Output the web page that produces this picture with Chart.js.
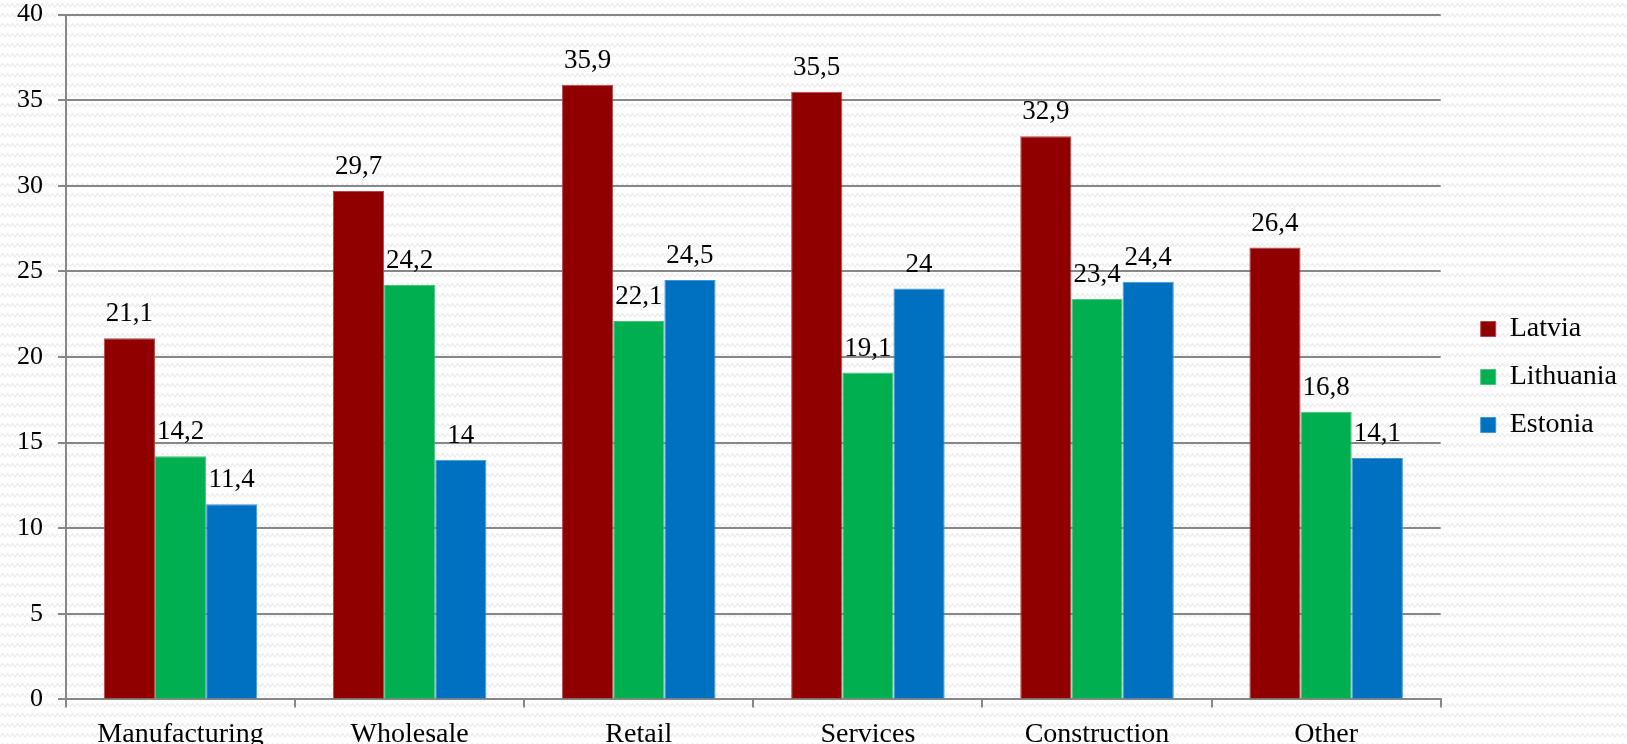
<!DOCTYPE html>
<html>
<head>
<meta charset="utf-8">
<script src="https://cdn.jsdelivr.net/npm/chart.js@4.4.1/dist/chart.umd.min.js"></script>
<style>
  html, body { margin: 0; padding: 0; overflow: hidden; width: 1627px; height: 744px; }
  body {
    position: relative;
    background-color: #ffffff;
    background-image: url("data:image/svg+xml;utf8,<svg xmlns='http://www.w3.org/2000/svg' width='10' height='10'><polyline points='0,7 2.5,3.5 5,7 7.5,3.5 10,7' fill='none' stroke='%23ebebeb' stroke-width='1.2'/></svg>");
  }
  #wrap { position: absolute; left: 0; top: -16px; width: 1627px; height: 783px; }
</style>
</head>
<body>
<div id="wrap"><canvas id="c"></canvas></div>
<script>
const categories = ["Manufacturing", "Wholesale", "Retail", "Services", "Construction", "Other"];
const latvia    = [21.1, 29.7, 35.9, 35.5, 32.9, 26.4];
const lithuania = [14.2, 24.2, 22.1, 19.1, 23.4, 16.8];
const estonia   = [11.4, 14.0, 24.5, 24.0, 24.4, 14.1];
const seriesNames = ["Latvia", "Lithuania", "Estonia"];
const yTicks = [0, 5, 10, 15, 20, 25, 30, 35, 40];

const FONT = "'Liberation Serif', 'Times New Roman', serif";
const GRID = '#878787';

const fmt = v => String(v).replace('.', ',');

const dataLabels = {
  id: 'dataLabels',
  afterDatasetsDraw(chart) {
    const ctx = chart.ctx;
    ctx.save();
    ctx.font = "27px " + FONT;
    ctx.fillStyle = '#000';
    ctx.textAlign = 'center';
    ctx.textBaseline = 'middle';
    chart.data.datasets.forEach((ds, di) => {
      const meta = chart.getDatasetMeta(di);
      meta.data.forEach((el, i) => {
        ctx.fillText(fmt(ds.data[i]), el.x, el.y - 24);
      });
    });
    ctx.restore();
  }
};

new Chart(document.getElementById('c'), {
  type: 'bar',
  data: {
    labels: categories,
    datasets: [
      { label: seriesNames[0], data: latvia,    backgroundColor: '#900000', borderColor: '#b04848', borderWidth: 1 },
      { label: seriesNames[1], data: lithuania, backgroundColor: '#00b050', borderColor: '#40c47c', borderWidth: 1 },
      { label: seriesNames[2], data: estonia,   backgroundColor: '#0070c0', borderColor: '#4096d4', borderWidth: 1 }
    ]
  },
  options: {
    responsive: true,
    maintainAspectRatio: false,
    animation: false,
    layout: { padding: { left: 2, top: 9, right: 0, bottom: 6 } },
    datasets: { bar: { categoryPercentage: 0.67, barPercentage: 1.0 } },
    scales: {
      x: {
        grid: { display: true, drawOnChartArea: false, drawTicks: true, tickLength: 8, color: GRID, lineWidth: 2, offset: true },
        border: { display: true, color: GRID, width: 2 },
        ticks: { color: '#000', font: { family: FONT, size: 28 }, padding: 10, maxRotation: 0, autoSkip: false }
      },
      y: {
        min: 0, max: 40,
        afterBuildTicks: s => { s.ticks = yTicks.map(v => ({ value: v })); },
        grid: { color: GRID, lineWidth: 2, tickLength: 8, drawTicks: true },
        border: { display: true, color: GRID, width: 2 },
        ticks: { color: '#000', font: { family: FONT, size: 26 }, padding: 15 }
      },
      pad: {
        position: 'right',
        display: true,
        grid: { display: false },
        border: { display: false },
        ticks: { display: false },
        afterFit: s => { s.width = 20; }
      }
    },
    plugins: {
      legend: {
        position: 'right',
        align: 'center',
        labels: {
          color: '#000',
          font: { family: FONT, size: 28 },
          boxWidth: 15,
          boxHeight: 15,
          padding: 20
        }
      },
      tooltip: { enabled: false }
    }
  },
  plugins: [dataLabels]
});
</script>
</body>
</html>
